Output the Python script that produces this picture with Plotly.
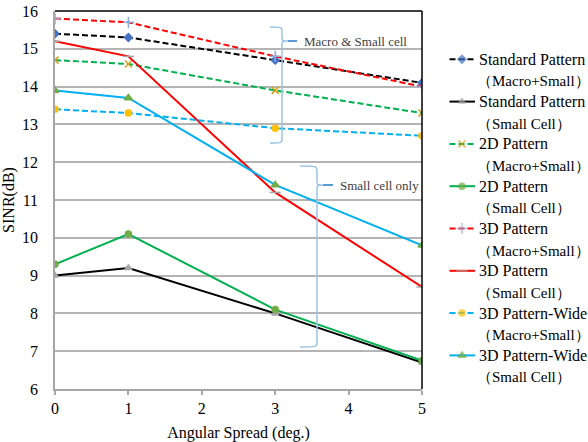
import plotly.graph_objects as go

x_spread = [0, 1, 3, 5]

std_ms = [15.4, 15.3, 14.7, 14.1]
std_sc = [9.0, 9.2, 8.0, 6.7]
p2d_ms = [14.7, 14.6, 13.9, 13.3]
p2d_sc = [9.3, 10.1, 8.1, 6.75]
p3d_ms = [15.8, 15.7, 14.8, 14.0]
p3d_sc = [15.2, 14.8, 11.2, 8.7]
wide_ms = [13.4, 13.3, 12.9, 12.7]
wide_sc = [13.9, 13.7, 11.4, 9.8]

name_line1 = ["Standard Pattern", "Standard Pattern", "2D Pattern", "2D Pattern",
              "3D Pattern", "3D Pattern", "3D Pattern-Wide", "3D Pattern-Wide"]
name_line2 = ["（Macro+Small）", "（Small Cell）", "（Macro+Small）", "（Small Cell）",
              "（Macro+Small）", "（Small Cell）", "（Macro+Small）", "（Small Cell）"]

series = [std_ms, std_sc, p2d_ms, p2d_sc, p3d_ms, p3d_sc, wide_ms, wide_sc]
line_colors = ["#000000", "#000000", "#00B050", "#00B050", "#FF0000", "#FF0000", "#00B0F0", "#00B0F0"]
dashes = ["6px,3px", "solid", "6px,3px", "solid", "6px,3px", "solid", "6px,3px", "solid"]
marker_syms = ["diamond", "triangle-up", "x-thin-open", "circle", "cross-thin-open", "line-ew-open", "circle", "triangle-up"]
marker_cols = ["#4472C4", "#A5A5A5", "#D4A017", "#70AD47", "#8FAADC", "#A5A5A5", "#FFC000", "#70AD47"]
marker_sizes = [6, 6, 7, 6, 8, 8, 6, 7]

FONT = "Liberation Serif"
W, H = 588, 442
L, R, T, B = 55, 422, 11, 389   # plot-area pixel box of the main axes
dom_main = (R - L) / (W - L)
LEG_X0 = 430
dom_leg0 = (LEG_X0 - L) / (W - L)

fig = go.Figure()
for nm1, nm2, ys, lc, ds, ms, mc, sz in zip(name_line1, name_line2, series, line_colors, dashes,
                                            marker_syms, marker_cols, marker_sizes):
    fig.add_trace(go.Scatter(
        x=x_spread, y=ys, name=nm1 + " " + nm2, mode="lines+markers", showlegend=False,
        line=dict(color=lc, width=2, dash=ds),
        marker=dict(symbol=ms, color=mc, size=sz, line=dict(color=mc, width=1.5)),
        xaxis="x", yaxis="y",
    ))

# manual legend (axes x2/y2 measured in pixels)
LEG_TOP = 59.3
LEG_STEP = 42.3
LEG_SUB = 22.0
TXT_X = 476.5
TXT_X2 = 474.5
for i, (nm1, nm2, lc, ds, ms, mc, sz) in enumerate(zip(name_line1, name_line2, line_colors, dashes,
                                                       marker_syms, marker_cols, marker_sizes)):
    yy = LEG_TOP + i * LEG_STEP
    fig.add_trace(go.Scatter(
        x=[449.5, 462, 475], y=[yy, yy, yy], mode="lines+markers", showlegend=False,
        line=dict(color=lc, width=2, dash=ds),
        marker=dict(symbol=ms, color=mc, size=[0, sz, 0], line=dict(color=mc, width=1.5)),
        xaxis="x2", yaxis="y2", hoverinfo="skip",
    ))
    fig.add_annotation(x=TXT_X, y=yy, xref="x2", yref="y2", text=nm1, showarrow=False,
                       xanchor="left", yanchor="middle", font=dict(family=FONT, size=16, color="#000000"))
    fig.add_annotation(x=TXT_X2, y=yy + LEG_SUB, xref="x2", yref="y2", text=nm2, showarrow=False,
                       xanchor="left", yanchor="middle", font=dict(family=FONT, size=15, color="#000000"))

# helpers to convert pixel positions into data coords for the decorative braces
def dx(px):
    return (px - L) / (R - L) * 5
def dy(py):
    return 16 - (py - T) / (B - T) * 10

def brace(x_left, x_mid, x_tip, y_top, y_tip, y_bot):
    c = 5
    p = (f"M {dx(x_left)},{dy(y_top)} "
         f"C {dx(x_mid)},{dy(y_top)} {dx(x_mid)},{dy(y_top)} {dx(x_mid)},{dy(y_top + c)} "
         f"L {dx(x_mid)},{dy(y_tip - c)} "
         f"C {dx(x_mid)},{dy(y_tip)} {dx(x_mid)},{dy(y_tip)} {dx(x_mid + 6)},{dy(y_tip)} "
         f"C {dx(x_mid)},{dy(y_tip)} {dx(x_mid)},{dy(y_tip)} {dx(x_mid)},{dy(y_tip + c)} "
         f"L {dx(x_mid)},{dy(y_bot - c)} "
         f"C {dx(x_mid)},{dy(y_bot)} {dx(x_mid)},{dy(y_bot)} {dx(x_left)},{dy(y_bot)}")
    fig.add_shape(type="path", path=p, xref="x", yref="y",
                  line=dict(color="#9DC3E6", width=1.5), layer="above")
    fig.add_shape(type="line", x0=dx(x_mid + 6), x1=dx(x_tip), y0=dy(y_tip), y1=dy(y_tip),
                  xref="x", yref="y", line=dict(color="#5B9BD5", width=2), layer="above")

brace(270, 282, 297, 27, 41, 143)
brace(300, 317, 333, 166, 185, 347)

fig.add_annotation(x=dx(302), y=dy(41), xref="x", yref="y", text="Macro &amp; Small cell", showarrow=False,
                   xanchor="left", yanchor="middle", font=dict(family=FONT, size=13, color="#404040"))
fig.add_annotation(x=dx(338), y=dy(185), xref="x", yref="y", text="Small cell only", showarrow=False,
                   xanchor="left", yanchor="middle", font=dict(family=FONT, size=13, color="#404040"))

# black frame on top and right
fig.add_shape(type="line", xref="x domain", yref="y domain", x0=0, x1=1, y0=1, y1=1,
              line=dict(color="black", width=1.5), layer="above")
fig.add_shape(type="line", xref="x domain", yref="y domain", x0=1, x1=1, y0=0, y1=1,
              line=dict(color="black", width=1.5), layer="above")

fig.update_layout(
    width=W, height=H,
    margin=dict(l=L, r=0, t=T, b=H - B, autoexpand=False),
    paper_bgcolor="white", plot_bgcolor="white",
    font=dict(family=FONT, size=16, color="#000000"),
    showlegend=False,
    xaxis=dict(domain=[0, dom_main], range=[0, 5], dtick=1, tick0=0, showgrid=False, zeroline=False,
               showline=True, linecolor="#A6A6A6", linewidth=1.5,
               ticks="outside", ticklen=4, tickcolor="#A6A6A6", tickwidth=1.5,
               ticklabelstandoff=0, tickfont=dict(family=FONT, size=16),
               title=dict(text="Angular Spread (deg.)", standoff=15, font=dict(family=FONT, size=16))),
    yaxis=dict(range=[6, 16], dtick=1, tick0=6, showgrid=True, gridcolor="#B4B4B4", gridwidth=1.5,
               zeroline=False, showline=True, linecolor="#A6A6A6", linewidth=1.5,
               ticks="", ticklabelstandoff=12, tickfont=dict(family=FONT, size=16),
               title=dict(text="SINR(dB)", standoff=3, font=dict(family=FONT, size=16))),
    xaxis2=dict(domain=[dom_leg0, 1], range=[LEG_X0, W], visible=False, anchor="y2", fixedrange=True),
    yaxis2=dict(domain=[0, 1], range=[B, T], visible=False, anchor="x2", fixedrange=True),
)

fig.write_html("out.html")
